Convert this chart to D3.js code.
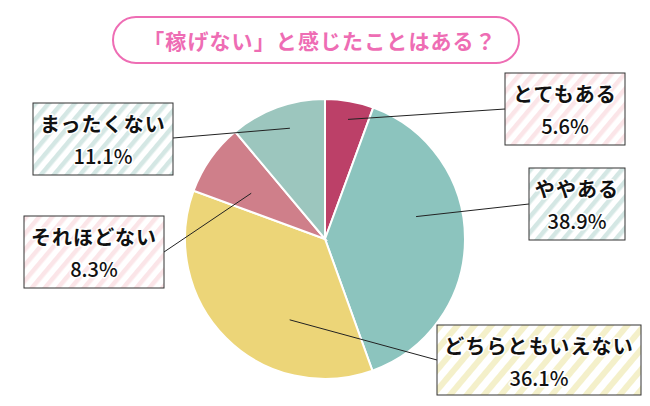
<!DOCTYPE html>
<html>
<head>
<meta charset="utf-8">
<script src="https://cdn.jsdelivr.net/npm/d3@7"></script>
<style>
  html, body { margin: 0; padding: 0; background: #fff; }
  text { font-family: "Noto Sans CJK JP", sans-serif; }
</style>
</head>
<body>
<div id="chart"></div>
<script>
const categories = ['とてもある', 'ややある', 'どちらともいえない', 'それほどない', 'まったくない'];
const values = [5.6, 38.9, 36.1, 8.3, 11.1];
const sliceColors = ['#bc4068', '#8cc4be', '#ecd578', '#cf7f8a', '#9cc6be'];
const boxStripes = ['pinkStripe', 'tealStripe', 'yellowStripe', 'pinkStripe', 'tealStripe'];
// label boxes: x, y, w, h
const boxes = [
  [505, 73, 120, 72],
  [529, 168, 96, 72],
  [437, 325, 204, 70],
  [24, 216, 140, 72],
  [33, 103, 140, 72],
];
// where the leader ends inside a slice: share of the slice angle, share of radius
const leaderEnds = [[0.54, 0.87], [0.40, 0.67], [0.334, 0.63], [0.39, 0.62], [0.56, 0.83]];
// where the leader meets the box: x, y
const leaderStarts = [[505, 109], [529, 204], [437, 360], [164, 252], [173, 138]];
const title = '「稼げない」と感じたことはある？';

const width = 650;
const height = 406;
const cx = 325;
const cy = 239;
const radius = 140;

const svg = d3.select('#chart').append('svg')
  .attr('width', width).attr('height', height)
  .style('display', 'block');

// striped box fills
const defs = svg.append('defs');
[['pinkStripe', '#fbe5e8', 10, 4.5], ['tealStripe', '#d4e7e4', 10, 4.5], ['yellowStripe', '#f4f0ca', 13, 6]].forEach(([id, color, period, band]) => {
  const p = defs.append('pattern').attr('id', id)
    .attr('patternUnits', 'userSpaceOnUse')
    .attr('width', period).attr('height', period)
    .attr('patternTransform', 'rotate(40)');
  p.append('rect').attr('width', period).attr('height', period).attr('fill', '#fff');
  p.append('rect').attr('width', band).attr('height', period).attr('fill', color);
});

// title pill
svg.append('rect')
  .attr('x', 113).attr('y', 17)
  .attr('width', 406).attr('height', 46)
  .attr('rx', 23)
  .attr('fill', '#fff').attr('stroke', '#ee6db4').attr('stroke-width', 2);
svg.append('text')
  .attr('x', 320).attr('y', 49)
  .attr('text-anchor', 'middle')
  .attr('fill', '#ee6db4')
  .attr('font-size', 21).attr('font-weight', 700)
  .attr('letter-spacing', 1.1)
  .text(title);

// pie
const pie = d3.pie().sort(null).value((d) => d)(values);
const arc = d3.arc().innerRadius(0).outerRadius(radius);
const g = svg.append('g').attr('transform', `translate(${cx},${cy})`);
g.selectAll('.slice')
  .data(pie)
  .enter()
  .append('path')
  .classed('slice', true)
  .attr('d', arc)
  .attr('fill', (d, i) => sliceColors[i])
  .attr('stroke', '#fff')
  .attr('stroke-width', 2);

// leaders
const leaderEnd = (d, i) => {
  const a = d.startAngle + (d.endAngle - d.startAngle) * leaderEnds[i][0];
  const r = radius * leaderEnds[i][1];
  return [cx + r * Math.sin(a), cy - r * Math.cos(a)];
};
svg.selectAll('.leader')
  .data(pie)
  .enter()
  .append('line')
  .classed('leader', true)
  .attr('x1', (d, i) => leaderEnd(d, i)[0])
  .attr('y1', (d, i) => leaderEnd(d, i)[1])
  .attr('x2', (d, i) => leaderStarts[i][0])
  .attr('y2', (d, i) => leaderStarts[i][1])
  .attr('stroke', '#222')
  .attr('stroke-width', 1);

// label boxes
const label = svg.selectAll('.label')
  .data(categories)
  .enter()
  .append('g')
  .classed('label', true)
  .attr('transform', (d, i) => `translate(${boxes[i][0]},${boxes[i][1]})`);
label.append('rect')
  .attr('width', (d, i) => boxes[i][2])
  .attr('height', (d, i) => boxes[i][3])
  .attr('fill', (d, i) => `url(#${boxStripes[i]})`)
  .attr('stroke', '#333')
  .attr('stroke-width', 1);
label.append('text')
  .attr('x', (d, i) => boxes[i][2] / 2)
  .attr('y', 29)
  .attr('text-anchor', 'middle')
  .attr('font-size', 20).attr('font-weight', 700)
  .attr('letter-spacing', 1.1)
  .attr('fill', '#111')
  .attr('stroke', '#fff').attr('stroke-width', 3)
  .attr('stroke-linejoin', 'round')
  .style('paint-order', 'stroke')
  .text((d) => d);
label.append('text')
  .attr('x', (d, i) => boxes[i][2] / 2)
  .attr('y', 61)
  .attr('text-anchor', 'middle')
  .attr('font-size', 20).attr('font-weight', 500)
  .attr('fill', '#111')
  .attr('stroke', '#fff').attr('stroke-width', 3)
  .attr('stroke-linejoin', 'round')
  .style('paint-order', 'stroke')
  .text((d, i) => `${values[i]}%`);
</script>
</body>
</html>
